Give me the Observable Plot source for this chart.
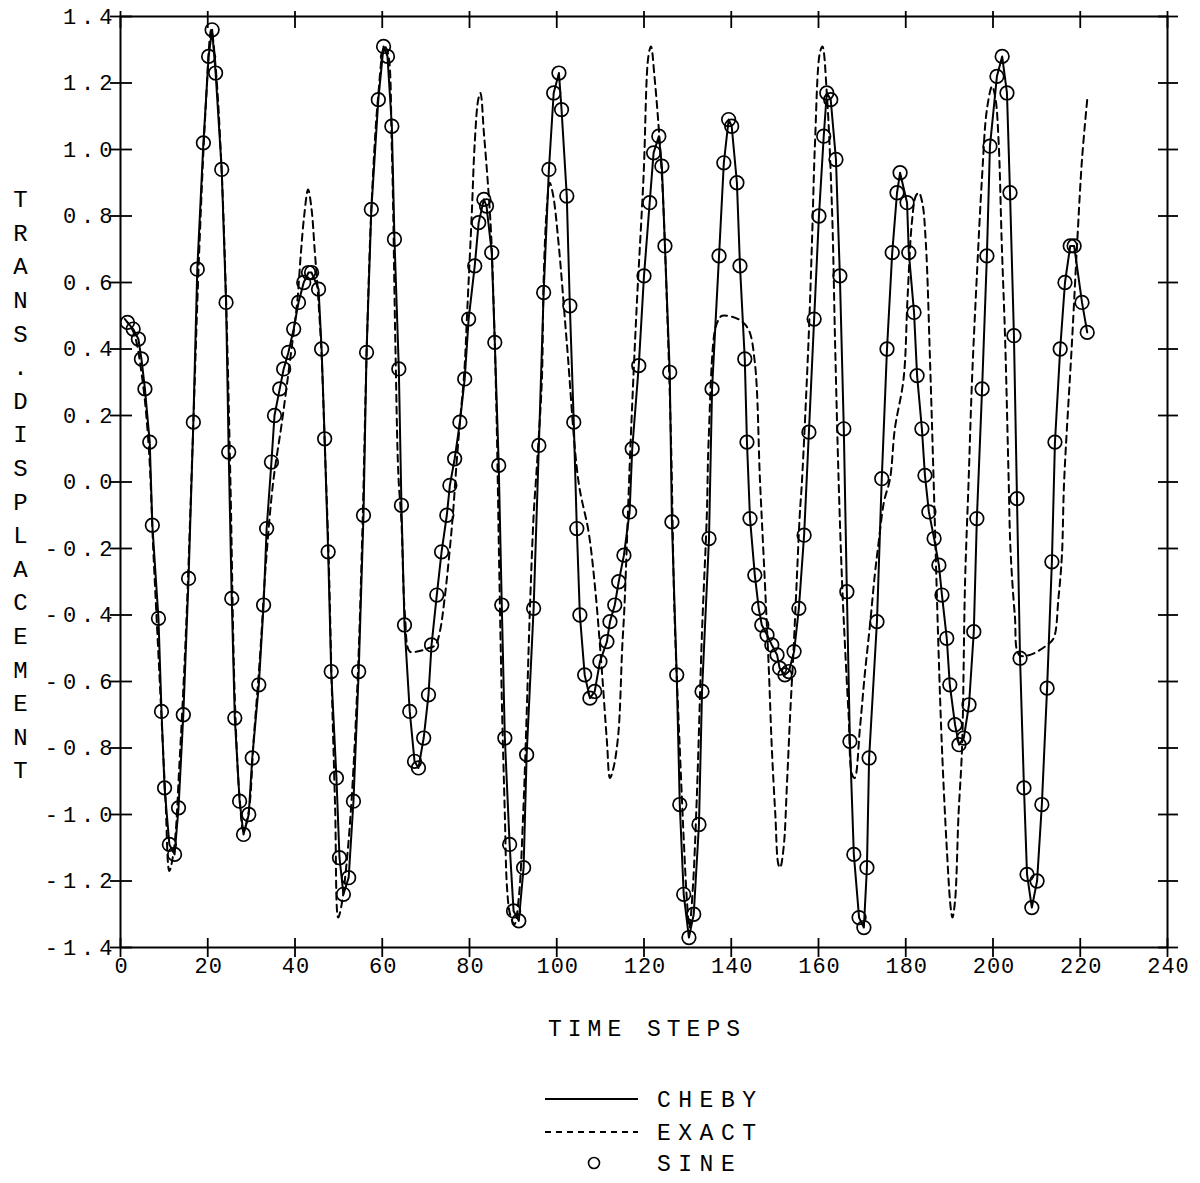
<!DOCTYPE html>
<html>
<head>
<meta charset="utf-8">
<script src="https://cdn.jsdelivr.net/npm/d3@7"></script>
<script src="https://cdn.jsdelivr.net/npm/@observablehq/plot@0.6"></script>
<style>
  body { margin: 0; background: #fff; }
  #wrap { position: relative; width: 1200px; height: 1183px; background: #fff; }
  #chart { position: absolute; left: 0; top: 0; }
  #legend { position: absolute; left: 0; top: 1080px; }
  svg text { font-family: "Liberation Mono", "DejaVu Sans Mono", monospace; fill: #000; }
  #legend text { letter-spacing: 7.5px; font-size: 23px; }
</style>
</head>
<body>
<div id="wrap">
  <div id="chart"></div>
  <div id="legend"></div>
</div>
<script>
// ---------------- data ----------------
const xTicks = [0, 20, 40, 60, 80, 100, 120, 140, 160, 180, 200, 220, 240];
const yTicks = [1.4, 1.2, 1.0, 0.8, 0.6, 0.4, 0.2, 0.0, -0.2, -0.4, -0.6, -0.8, -1.0, -1.2, -1.4];
const yTickLabels = ["1.4", "1.2", "1.0", "0.8", "0.6", "0.4", "0.2", "0.0", "-0.2", "-0.4", "-0.6", "-0.8", "-1.0", "-1.2", "-1.4"];
const xTitle = "TIME STEPS";
const yTitle = "TRANS.DISPLACEMENT";
const seriesNames = ["CHEBY", "EXACT", "SINE"];

// SINE (circles) – time step and displacement
const sineSteps = [
  1.6, 2.9, 4.1, 4.8, 5.6, 6.7, 7.3, 8.7, 9.4, 10.1,
  11.2, 12.4, 13.3, 14.4, 15.6, 16.7, 17.6, 19.0, 20.2, 21.0,
  21.8, 23.2, 24.2, 24.8, 25.5, 26.2, 27.3, 28.2, 29.4, 30.2,
  31.7, 32.8, 33.5, 34.6, 35.3, 36.5, 37.4, 38.5, 39.7, 40.8,
  42.0, 43.1, 43.8, 45.4, 46.1, 46.8, 47.6, 48.3, 49.5, 50.2,
  51.1, 52.3, 53.4, 54.6, 55.7, 56.4, 57.5, 59.1, 60.3, 61.2,
  62.2, 62.8, 63.8, 64.4, 65.1, 66.3, 67.4, 68.3, 69.5, 70.6,
  71.3, 72.5, 73.6, 74.8, 75.5, 76.6, 77.8, 78.9, 79.8, 81.2,
  82.1, 83.3, 83.9, 85.1, 85.8, 86.7, 87.4, 88.1, 89.2, 90.1,
  91.3, 92.4, 93.1, 94.7, 95.9, 97.0, 98.2, 99.3, 100.5, 101.1,
  102.3, 103.0, 103.9, 104.6, 105.3, 106.4, 107.6, 108.7, 109.9, 111.5,
  112.2, 113.3, 114.2, 115.4, 116.7, 117.3, 118.8, 120.0, 121.3, 122.2,
  123.4, 124.1, 124.8, 125.9, 126.4, 127.5, 128.2, 129.1, 130.3, 131.4,
  132.6, 133.3, 134.9, 135.6, 137.2, 138.3, 139.4, 140.1, 141.3, 142.0,
  143.1, 143.6, 144.3, 145.4, 146.3, 147.0, 148.2, 149.3, 150.5, 151.1,
  152.3, 153.2, 154.4, 155.5, 156.7, 157.8, 159.0, 160.1, 161.2, 161.9,
  162.8, 164.0, 164.9, 165.8, 166.5, 167.2, 168.1, 169.3, 170.4, 171.1,
  171.6, 173.4, 174.5, 175.7, 176.9, 178.0, 178.7, 180.3, 180.7, 181.9,
  182.6, 183.7, 184.4, 185.3, 186.5, 187.6, 188.3, 189.4, 190.1, 191.3,
  192.2, 193.3, 194.5, 195.6, 196.3, 197.5, 198.6, 199.3, 200.9, 202.1,
  203.2, 203.9, 204.8, 205.5, 206.2, 207.1, 207.8, 208.9, 210.1, 211.2,
  212.4, 213.5, 214.2, 215.4, 216.5, 217.7, 218.6, 220.4, 221.6
];
const sineValues = [
  0.48, 0.46, 0.43, 0.37, 0.28, 0.12, -0.13, -0.41, -0.69, -0.92,
  -1.09, -1.12, -0.98, -0.70, -0.29, 0.18, 0.64, 1.02, 1.28, 1.36,
  1.23, 0.94, 0.54, 0.09, -0.35, -0.71, -0.96, -1.06, -1.00, -0.83,
  -0.61, -0.37, -0.14, 0.06, 0.20, 0.28, 0.34, 0.39, 0.46, 0.54,
  0.60, 0.63, 0.63, 0.58, 0.40, 0.13, -0.21, -0.57, -0.89, -1.13,
  -1.24, -1.19, -0.96, -0.57, -0.10, 0.39, 0.82, 1.15, 1.31, 1.28,
  1.07, 0.73, 0.34, -0.07, -0.43, -0.69, -0.84, -0.86, -0.77, -0.64,
  -0.49, -0.34, -0.21, -0.10, -0.01, 0.07, 0.18, 0.31, 0.49, 0.65,
  0.78, 0.85, 0.83, 0.69, 0.42, 0.05, -0.37, -0.77, -1.09, -1.29,
  -1.32, -1.16, -0.82, -0.38, 0.11, 0.57, 0.94, 1.17, 1.23, 1.12,
  0.86, 0.53, 0.18, -0.14, -0.40, -0.58, -0.65, -0.63, -0.54, -0.48,
  -0.42, -0.37, -0.30, -0.22, -0.09, 0.10, 0.35, 0.62, 0.84, 0.99,
  1.04, 0.95, 0.71, 0.33, -0.12, -0.58, -0.97, -1.24, -1.37, -1.30,
  -1.03, -0.63, -0.17, 0.28, 0.68, 0.96, 1.09, 1.07, 0.90, 0.65,
  0.37, 0.12, -0.11, -0.28, -0.38, -0.43, -0.46, -0.49, -0.52, -0.56,
  -0.58, -0.57, -0.51, -0.38, -0.16, 0.15, 0.49, 0.80, 1.04, 1.17,
  1.15, 0.97, 0.62, 0.16, -0.33, -0.78, -1.12, -1.31, -1.34, -1.16,
  -0.83, -0.42, 0.01, 0.40, 0.69, 0.87, 0.93, 0.84, 0.69, 0.51,
  0.32, 0.16, 0.02, -0.09, -0.17, -0.25, -0.34, -0.47, -0.61, -0.73,
  -0.79, -0.77, -0.67, -0.45, -0.11, 0.28, 0.68, 1.01, 1.22, 1.28,
  1.17, 0.87, 0.44, -0.05, -0.53, -0.92, -1.18, -1.28, -1.20, -0.97,
  -0.62, -0.24, 0.12, 0.40, 0.60, 0.71, 0.71, 0.54, 0.45
];

// CHEBY (solid line) runs through the same sampled points as the circles
const chebySteps = sineSteps;
const chebyValues = sineValues;

// EXACT (dashed curve)
const exactSteps = [
  1.0, 3.0, 5.0, 6.5, 7.5, 9.0, 10.3, 11.2, 12.3, 13.5,
  15.0, 16.5, 18.0, 19.5, 20.8, 21.8, 23.2, 24.3, 25.2, 26.2,
  27.3, 28.2, 29.4, 30.5, 32.0, 33.3, 35.0, 37.0, 39.0, 40.5,
  41.3, 42.1, 43.0, 43.8, 44.5, 45.3, 46.1, 46.8, 47.7, 48.4,
  49.2, 49.9, 50.7, 51.8, 53.0, 54.4, 55.5, 56.4, 57.5, 59.0,
  60.5, 61.3, 62.2, 63.0, 63.7, 64.4, 65.2, 66.3, 68.0, 70.5,
  72.2, 73.2, 74.3, 75.5, 76.3, 77.0, 77.8, 78.8, 79.5, 80.5,
  81.2, 82.0, 82.5, 83.3, 84.2, 84.9, 85.5, 86.2, 86.8, 87.4,
  88.1, 88.6, 89.3, 90.3, 91.3, 92.3, 93.1, 93.8, 94.7, 95.2,
  95.8, 96.6, 97.0, 97.7, 98.4, 99.2, 100.4, 102.3, 105.0, 107.3,
  108.8, 110.3, 111.5, 112.2, 113.0, 114.1, 115.0, 115.5, 116.9, 118.3,
  119.9, 121.0, 121.6, 122.4, 124.1, 125.3, 126.2, 127.0, 128.2, 129.2,
  129.8, 130.4, 131.2, 132.1, 133.3, 134.4, 134.8, 136.3, 137.2, 137.9,
  141.6, 143.9, 145.4, 146.6, 147.7, 148.6, 149.3, 150.1, 150.8, 151.2,
  152.0, 152.8, 153.5, 154.3, 155.0, 155.7, 156.2, 157.7, 158.5, 159.2,
  160.3, 160.9, 161.9, 163.1, 163.8, 164.6, 165.4, 166.1, 166.9, 167.7,
  168.3, 169.5, 170.6, 171.8, 172.9, 173.8, 175.0, 176.4, 177.5, 179.5,
  180.4, 181.4, 182.3, 183.0, 183.8, 184.6, 185.6, 186.4, 187.5, 188.3,
  189.4, 190.3, 190.7, 191.3, 192.1, 192.9, 193.6, 194.4, 195.2, 196.3,
  197.5, 198.6, 199.8, 200.6, 201.3, 202.0, 202.8, 203.6, 204.0, 205.0,
  206.0, 208.5, 212.4, 213.9, 215.0, 215.8, 216.3, 218.1, 219.3, 220.4,
  221.6
];
const exactValues = [
  0.49, 0.45, 0.31, 0.10, -0.20, -0.60, -0.95, -1.17, -1.10, -0.85,
  -0.45, 0.10, 0.68, 1.12, 1.36, 1.25, 0.93, 0.50, 0.00, -0.65,
  -0.95, -1.05, -0.99, -0.78, -0.52, -0.25, 0.00, 0.18, 0.38, 0.54,
  0.68, 0.80, 0.88, 0.82, 0.70, 0.56, 0.38, 0.12, -0.22, -0.60,
  -0.98, -1.31, -1.27, -1.15, -0.95, -0.58, -0.12, 0.38, 0.82, 1.15,
  1.31, 1.29, 1.00, 0.42, 0.02, -0.12, -0.40, -0.51, -0.51, -0.50,
  -0.49, -0.45, -0.35, -0.20, -0.08, 0.05, 0.18, 0.33, 0.52, 0.80,
  1.02, 1.15, 1.17, 1.05, 0.90, 0.76, 0.55, 0.20, -0.25, -0.65,
  -1.00, -1.22, -1.30, -1.33, -1.25, -1.00, -0.70, -0.40, -0.10, 0.00,
  0.12, 0.31, 0.61, 0.82, 0.90, 0.86, 0.72, 0.42, 0.00, -0.15,
  -0.32, -0.56, -0.78, -0.89, -0.86, -0.76, -0.50, -0.38, 0.11, 0.52,
  0.92, 1.28, 1.31, 1.22, 0.92, 0.52, 0.12, -0.40, -0.80, -1.10,
  -1.25, -1.34, -1.22, -0.95, -0.45, -0.10, 0.12, 0.46, 0.49, 0.50,
  0.49, 0.46, 0.36, 0.00, -0.30, -0.56, -0.80, -1.00, -1.15, -1.16,
  -1.10, -0.90, -0.70, -0.50, -0.30, -0.10, 0.00, 0.42, 0.72, 1.02,
  1.29, 1.31, 1.17, 0.82, 0.42, 0.01, -0.30, -0.50, -0.70, -0.88,
  -0.89, -0.74, -0.58, -0.43, -0.28, -0.18, -0.06, 0.01, 0.16, 0.31,
  0.55, 0.78, 0.86, 0.87, 0.84, 0.72, 0.35, 0.00, -0.50, -0.80,
  -1.10, -1.28, -1.31, -1.26, -1.00, -0.80, -0.30, 0.00, 0.31, 0.62,
  0.92, 1.12, 1.19, 1.15, 1.02, 0.72, 0.42, 0.00, -0.20, -0.40,
  -0.52, -0.52, -0.49, -0.47, -0.35, -0.22, 0.00, 0.42, 0.72, 0.97,
  1.15
];

// ---------------- build tables ----------------
const sine = sineSteps.map((t, i) => ({t, v: sineValues[i]}));
const cheby = chebySteps.map((t, i) => ({t, v: chebyValues[i]}));
const exact = exactSteps.map((t, i) => ({t, v: exactValues[i]}));
const yLab = yTicks.map((v, i) => ({v, label: yTickLabels[i]}));

const chart = Plot.plot({
  width: 1200,
  height: 1075,
  marginLeft: 120,
  marginRight: 33,
  marginTop: 16,
  marginBottom: 128,
  x: {domain: [0, 240], label: null},
  y: {domain: [-1.4, 1.4], label: null},
  style: {background: "#fff", color: "#000", fontFamily: "Liberation Mono", fontSize: "20px"},
  marks: [
    Plot.frame({stroke: "#000", strokeWidth: 2}),
    Plot.axisX(xTicks, {anchor: "bottom", tickSize: 19, dy: -9, tickFormat: () => "", strokeWidth: 1.8}),
    Plot.axisX(xTicks, {anchor: "top", tickSize: 17, dy: 11, tickFormat: () => "", strokeWidth: 1.8}),
    Plot.axisY(yTicks, {anchor: "left", tickSize: 22, dx: 12, tickFormat: () => "", strokeWidth: 1.8}),
    Plot.axisY(yTicks, {anchor: "right", tickSize: 20, dx: -10, tickFormat: () => "", strokeWidth: 1.8}),
    Plot.text(xTicks, {x: d => d, text: d => String(d), frameAnchor: "bottom", dy: 25, dx: 1, fontSize: 22}),
    Plot.text(yLab, {y: "v", text: "label", frameAnchor: "left", dx: -3, textAnchor: "end", fontSize: 22}),
    Plot.text([yTitle], {text: d => d.split("").join("\n"), frameAnchor: "left", dx: -100, lineHeight: 1.4, fontSize: 24, textAnchor: "middle"}),
    Plot.text([xTitle], {text: d => d, frameAnchor: "bottom", dy: 88, dx: 3, fontSize: 23}),
    Plot.line(exact, {x: "t", y: "v", stroke: "#000", strokeWidth: 2, strokeDasharray: "7,5", curve: "catmull-rom"}),
    Plot.line(cheby, {x: "t", y: "v", stroke: "#000", strokeWidth: 2}),
    Plot.dot(sine, {x: "t", y: "v", r: 6.8, stroke: "#000", strokeWidth: 1.7, fill: "none"})
  ]
});
document.getElementById("chart").appendChild(chart);

// letter spacing to imitate the wide typewriter lettering
const xLabelSet = new Set(xTicks.map(String));
const yLabelSet = new Set(yTickLabels);
chart.querySelectorAll("text").forEach(t => {
  const s = t.textContent;
  if (yLabelSet.has(s)) t.style.letterSpacing = "5px";
  else if (xLabelSet.has(s)) t.style.letterSpacing = "1px";
  else if (s === xTitle) t.style.letterSpacing = "6px";
});

// ---------------- legend (below the chart) ----------------
const ns = "http://www.w3.org/2000/svg";
const lg = document.createElementNS(ns, "svg");
lg.setAttribute("width", 1200);
lg.setAttribute("height", 103);
const rows = [
  {name: seriesNames[0], y: 19, kind: "solid"},
  {name: seriesNames[1], y: 52, kind: "dash"},
  {name: seriesNames[2], y: 83, kind: "dot"}
];
for (const r of rows) {
  if (r.kind === "dot") {
    const c = document.createElementNS(ns, "circle");
    c.setAttribute("cx", 594); c.setAttribute("cy", r.y); c.setAttribute("r", 5.5);
    c.setAttribute("fill", "none"); c.setAttribute("stroke", "#000"); c.setAttribute("stroke-width", 1.6);
    lg.appendChild(c);
  } else {
    const l = document.createElementNS(ns, "line");
    l.setAttribute("x1", 545); l.setAttribute("x2", 638);
    l.setAttribute("y1", r.y); l.setAttribute("y2", r.y);
    l.setAttribute("stroke", "#000"); l.setAttribute("stroke-width", 2);
    if (r.kind === "dash") l.setAttribute("stroke-dasharray", "6,5");
    lg.appendChild(l);
  }
  const t = document.createElementNS(ns, "text");
  t.setAttribute("x", 657); t.setAttribute("y", r.y);
  t.setAttribute("dy", "0.35em");
  t.textContent = r.name;
  lg.appendChild(t);
}
document.getElementById("legend").appendChild(lg);
</script>
</body>
</html>
